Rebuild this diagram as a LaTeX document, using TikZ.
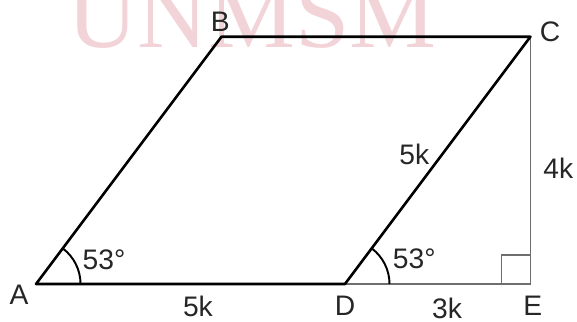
\documentclass[tikz,border=0pt]{standalone}
\usepackage{fontspec}
\setmainfont{Liberation Sans}
\newfontfamily\markfont{Liberation Serif}
\usepackage{tikz}
\usetikzlibrary{positioning, calc}
\definecolor{markpink}{RGB}{242,212,216}
\definecolor{auxgray}{RGB}{110,110,110}
\tikzset{
  mainline/.style={line width=1.2pt, black, line join=round},
  auxline/.style={line width=0.75pt, auxgray},
  vlabel/.style={font=\fontsize{13}{15}\selectfont, text=black!85, inner sep=0pt},
  anglearc/.style={line width=0.9pt, black},
  wmark/.style={font=\markfont\fontsize{45}{50}\selectfont, text=markpink, anchor=base, inner sep=0pt},
}

\begin{document}
\begin{tikzpicture}[x=1cm,y=1cm]
      % Frame
      \useasboundingbox (-0.583,-0.615) rectangle (8.754,4.595);

      % Watermark
      \node[wmark] (mark) at (3.49,3.82) {UNMSM};

      % Vertices
      \coordinate (A) at (0,0);
      \coordinate (D) at (5,0);
      \coordinate (B) at (3,4);
      \coordinate (C) at (8,4);
      \coordinate (E) at (8,0);

      % Auxiliary lines
      \draw[auxline] (D) -- (E) -- (C);
      \draw[auxline] ($(E)+(-0.47,0)$) -- ++(0,0.47) -- ++(0.47,0);

      % Parallelogram
      \draw[mainline] (A) -- (B) -- (C) -- (D) -- cycle;

      % Angles
      \draw[anglearc] (0.72,0) arc (0:53.13:0.72);
      \draw[anglearc] ($(D)+(0.72,0)$) arc (0:53.13:0.72);
      \node[vlabel] (angA) at (1.10,0.39) {53°};
      \node[vlabel] (angD) at (6.12,0.40) {53°};

      % Vertex labels
      \node[vlabel] (lA) at (-0.275,-0.17) {A};
      \node[vlabel] (lB) at (2.98,4.24) {B};
      \node[vlabel] (lC) at (8.32,4.08) {C};
      \node[vlabel] (lD) at (5.0,-0.36) {D};
      \node[vlabel] (lE) at (8.04,-0.36) {E};

      % Lengths
      \node[vlabel] (sAD) at (2.62,-0.36) {5k};
      \node[vlabel] (sDE) at (6.65,-0.39) {3k};
      \node[vlabel] (sCD) at (6.12,2.10) {5k};
      \node[vlabel] (sCE) at (8.45,1.88) {4k};
\end{tikzpicture}
\end{document}
